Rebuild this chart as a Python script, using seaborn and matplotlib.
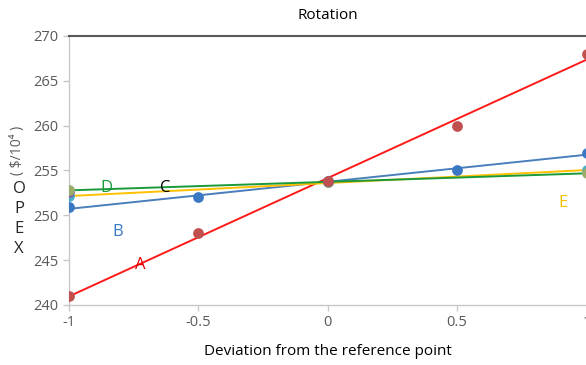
import pandas as pd
import matplotlib.pyplot as plt
import seaborn as sns

# Data
dev = [-1, -0.5, 0, 0.5, 1]
opex_a = [241.0, 248.0, 253.8, 260.0, 268.0]
opex_b = [250.9, 252.0, 253.8, 255.1, 256.9]
dev3 = [-1, 0, 1]
opex_d = [252.8, 253.7, 254.7]
opex_e = [252.1, 253.7, 255.0]
opex_c = [252.6]
dev_c = [-1]

sns.set_style('white')
plt.rcParams['font.family'] = ['Open Sans', 'DejaVu Sans']

fig = plt.figure(figsize=(5.86, 3.65), dpi=100)
ax = fig.add_axes([0.1177, 0.1644, 0.8833, 0.7370])

df_a = pd.DataFrame({'x': dev, 'y': opex_a})
df_b = pd.DataFrame({'x': dev, 'y': opex_b})
df_d = pd.DataFrame({'x': dev3, 'y': opex_d})
df_e = pd.DataFrame({'x': dev3, 'y': opex_e})
df_c = pd.DataFrame({'x': dev_c, 'y': opex_c})

# trend lines
sns.regplot(data=df_a, x='x', y='y', ci=None, scatter=False, ax=ax,
            line_kws={'color': '#ff1a1a', 'lw': 1.4})
sns.regplot(data=df_b, x='x', y='y', ci=None, scatter=False, ax=ax,
            line_kws={'color': '#4a7ebb', 'lw': 1.4})
sns.regplot(data=df_e, x='x', y='y', ci=None, scatter=False, ax=ax,
            line_kws={'color': '#ffc000', 'lw': 1.4})
sns.regplot(data=df_d, x='x', y='y', ci=None, scatter=False, ax=ax,
            line_kws={'color': '#1a9a3a', 'lw': 1.4})

# points
sns.scatterplot(data=df_e, x='x', y='y', color='#4bacc6', s=60, linewidth=0, ax=ax, zorder=3)
sns.scatterplot(data=df_c, x='x', y='y', color='#8064a2', s=60, linewidth=0, ax=ax, zorder=3)
sns.scatterplot(data=df_d, x='x', y='y', color='#9bab6b', s=60, linewidth=0, ax=ax, zorder=3)
sns.scatterplot(data=df_b, x='x', y='y', color='#3a78c3', s=60, linewidth=0, ax=ax, zorder=3)
sns.scatterplot(data=df_a, x='x', y='y', color='#c0504d', s=60, linewidth=0, ax=ax, zorder=3)

# series labels
ax.text(-0.726, 244.5, 'A', color='#e00000', fontsize=12, ha='center', va='center')
ax.text(-0.811, 248.1, 'B', color='#3a78c3', fontsize=12, ha='center', va='center')
ax.text(-0.629, 253.1, 'C', color='black', fontsize=12, ha='center', va='center')
ax.text(-0.857, 253.0, 'D', color='#1a9a3a', fontsize=12, ha='center', va='center')
ax.text(0.907, 251.4, 'E', color='#f0c000', fontsize=12, ha='center', va='center')

ax.set_xlim(-1, 1)
ax.set_ylim(240, 270)
ax.set_xticks([-1, -0.5, 0, 0.5, 1])
ax.set_xticklabels(['-1', '-0.5', '0', '0.5', '1'])
ax.set_yticks([240, 245, 250, 255, 260, 265, 270])

for s in ['left', 'bottom']:
    ax.spines[s].set_color('#c8c8c8')
    ax.spines[s].set_linewidth(1.0)
ax.spines['right'].set_visible(False)
ax.spines['top'].set_color('#595959')
ax.spines['top'].set_linewidth(1.5)
ax.tick_params(axis='both', which='both', length=4, width=1, color='#c8c8c8',
               labelcolor='#595959', labelsize=10.5, direction='out', left=True, bottom=True)

ax.set_xlabel('Deviation from the reference point', fontsize=11, color='black', labelpad=10)
ax.set_ylabel('')
ax.set_title('Rotation', fontsize=11, color='black', pad=12)

fig.text(19 / 586, 1 - 219 / 365, 'O\nP\nE\nX', fontsize=12, ha='center', va='center',
         linespacing=1.35)
fig.text(18 / 586, 1 - 150 / 365, '( $/10⁴ )', fontsize=10, color='#595959',
         rotation=90, ha='center', va='center')

plt.savefig('out.png', dpi=100)
